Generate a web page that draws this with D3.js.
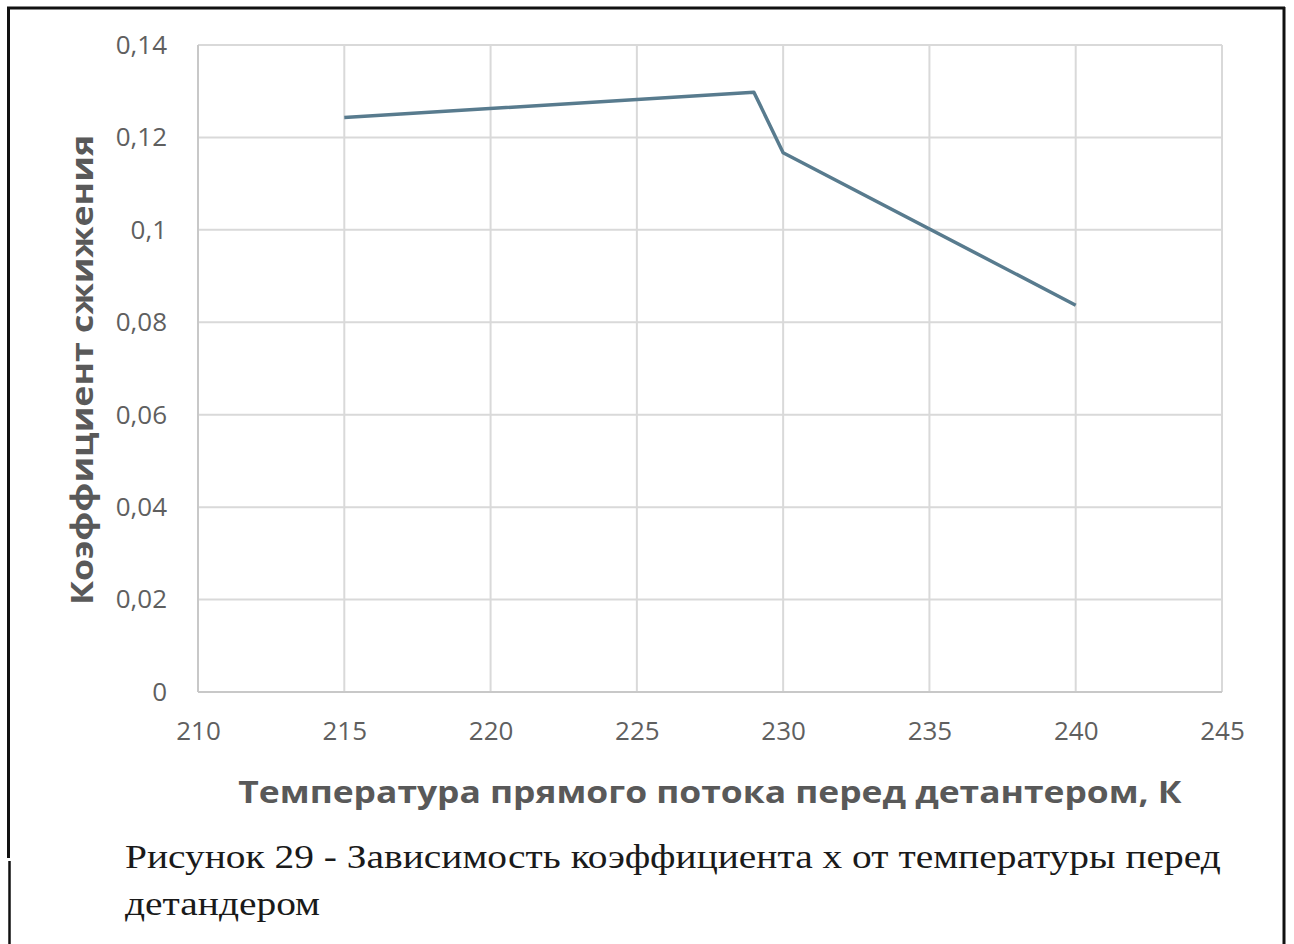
<!DOCTYPE html>
<html>
<head>
<meta charset="utf-8">
<script src="https://cdn.jsdelivr.net/npm/d3@7"></script>
<style>
  body { margin: 0; background: #fff; }
  svg { display: block; }
</style>
</head>
<body>
<div id="chart"></div>
<script>
// data
const temps = [215, 229, 230, 240];
const coef = [0.1243, 0.1298, 0.1167, 0.0837];
const xTicks = [210, 215, 220, 225, 230, 235, 240, 245];
const yTicks = [0, 0.02, 0.04, 0.06, 0.08, 0.1, 0.12, 0.14];
const yTitle = 'Коэффициент сжижения';
const xTitle = 'Температура прямого потока перед детантером, К';
const captionLines = [
  'Рисунок 29 - Зависимость коэффициента х от температуры перед',
  'детандером'
];

const width = 1294, height = 944;
const margin = { top: 45, right: 72, bottom: 252, left: 198 };
const innerW = width - margin.left - margin.right;
const innerH = height - margin.top - margin.bottom;

const svg = d3.select('#chart').append('svg')
  .attr('width', width)
  .attr('height', height);

// page frame (scan borders)
svg.append('line').attr('x1', 7).attr('x2', 1285).attr('y1', 8).attr('y2', 8)
  .attr('stroke', '#111').attr('stroke-width', 3);
svg.append('line').attr('x1', 8.5).attr('x2', 8.5).attr('y1', 7).attr('y2', 858)
  .attr('stroke', '#111').attr('stroke-width', 3);
svg.append('line').attr('x1', 9.5).attr('x2', 9.5).attr('y1', 861).attr('y2', 944)
  .attr('stroke', '#111').attr('stroke-width', 2.5);
svg.append('line').attr('x1', 1284).attr('x2', 1284).attr('y1', 7).attr('y2', 944)
  .attr('stroke', '#111').attr('stroke-width', 3);

const x = d3.scaleLinear().domain([210, 245]).range([0, innerW]);
const y = d3.scaleLinear().domain([0, 0.14]).range([innerH, 0]);

const g = svg.append('g')
  .attr('transform', `translate(${margin.left},${margin.top})`);

// grid
g.append('g').selectAll('line').data(yTicks).enter().append('line')
  .attr('x1', 0).attr('x2', innerW)
  .attr('y1', d => y(d)).attr('y2', d => y(d))
  .attr('stroke', '#d9d9d9').attr('stroke-width', 2);
g.append('g').selectAll('line').data(xTicks).enter().append('line')
  .attr('x1', d => x(d)).attr('x2', d => x(d))
  .attr('y1', 0).attr('y2', innerH)
  .attr('stroke', '#d9d9d9').attr('stroke-width', 2);

// axis lines
g.append('line').attr('x1', 0).attr('x2', 0).attr('y1', 0).attr('y2', innerH)
  .attr('stroke', '#c8c8c8').attr('stroke-width', 2);
g.append('line').attr('x1', 0).attr('x2', innerW).attr('y1', innerH).attr('y2', innerH)
  .attr('stroke', '#c8c8c8').attr('stroke-width', 2);

const fmt = d => d === 0 ? '0' : String(d).replace('.', ',');

// axes via d3, styled afterwards
const yAxis = g.append('g').attr('class', 'axis y')
  .call(d3.axisLeft(y).tickValues(yTicks).tickFormat(fmt).tickSize(0).tickPadding(31));
const xAxis = g.append('g').attr('class', 'axis x')
  .attr('transform', `translate(0,${innerH})`)
  .call(d3.axisBottom(x).tickValues(xTicks).tickFormat(d3.format('d')).tickSize(0).tickPadding(30));

[yAxis, xAxis].forEach(a => {
  a.select('.domain').remove();
  a.selectAll('text')
    .attr('fill', '#5f5f5f')
    .style('font-family', '"Open Sans", sans-serif')
    .style('font-size', '26px');
});

// series line
const line = d3.line()
  .x((d, i) => x(temps[i]))
  .y(d => y(d));

g.append('path')
  .datum(coef)
  .attr('d', line)
  .attr('fill', 'none')
  .attr('stroke', '#587b8e')
  .attr('stroke-width', 3.5)
  .attr('stroke-linejoin', 'round');

// axis titles (the original font is wider than Open Sans, hence the x-stretch)
svg.append('text')
  .attr('transform', 'translate(93,370) rotate(-90) scale(1.19,1)')
  .attr('text-anchor', 'middle')
  .attr('fill', '#595959')
  .style('font-family', '"Open Sans", sans-serif')
  .style('font-weight', 'bold')
  .style('font-size', '30px')
  .text(yTitle);

svg.append('text')
  .attr('transform', 'translate(710,803) scale(1.18,1)')
  .attr('text-anchor', 'middle')
  .attr('fill', '#595959')
  .style('font-family', '"Open Sans", sans-serif')
  .style('font-weight', 'bold')
  .style('font-size', '30px')
  .text(xTitle);

// caption
svg.append('g').selectAll('text').data(captionLines).enter().append('text')
  .attr('transform', (d, i) => `translate(125,${868 + i * 47}) scale(1.16,1)`)
  .attr('fill', '#1a1a1a')
  .style('font-family', '"Liberation Serif", "Times New Roman", serif')
  .style('font-size', '34px')
  .text(d => d);
</script>
</body>
</html>
